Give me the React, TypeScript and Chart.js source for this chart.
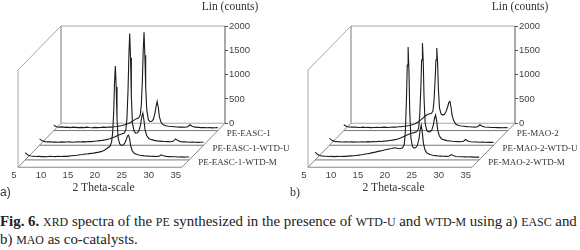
import React, { useEffect, useRef } from "react";
import { Chart, registerables } from "chart.js";
Chart.register(...registerables);

// ---------- data ----------
const anglesA = [
  5, 5.5, 6, 6.5, 7, 7.5, 8, 8.5, 9, 9.5,
  10, 10.5, 11, 11.5, 12, 12.5, 13, 13.5, 14, 14.5,
  15, 15.5, 16, 16.5, 17, 17.5, 18, 18.5, 19, 19.5, 20, 20.5,
  20.8, 21, 21.2, 21.35, 21.5, 21.65, 21.8, 22,
  22.3, 22.6, 22.9, 23.2, 23.5, 23.7, 23.9, 24.1, 24.3, 24.6,
  25, 25.5, 26, 26.5, 27, 27.5, 28, 28.5, 29, 29.5,
  29.9, 30.3, 30.8,
  31.5, 32, 32.5, 33, 33.5, 34, 34.5, 35,
];
const peEasc1 = [
  110, 80, 70, 75, 65, 70, 60, 70, 65, 60,
  65, 60, 70, 62, 58, 66, 60, 64, 70, 66,
  75, 72, 80, 85, 95, 105, 120, 140, 165, 200, 240, 260,
  320, 520, 1050, 1650, 2020, 1550, 900, 420,
  220, 185, 190, 230, 360, 500, 600, 480, 290, 170,
  120, 100, 90, 85, 80, 75, 70, 72, 68, 80,
  120, 90, 70,
  65, 60, 62, 58, 60, 55, 58, 60,
];
const peEasc1WtdU = [
  130, 90, 75, 70, 72, 65, 68, 62, 70, 64,
  66, 70, 62, 68, 72, 66, 74, 70, 78, 75,
  82, 88, 95, 100, 110, 125, 140, 160, 185, 210, 230, 250,
  320, 560, 1150, 1850, 2300, 1800, 1000, 450,
  290, 250, 255, 300, 430, 580, 660, 520, 320, 200,
  140, 115, 100, 90, 85, 80, 78, 75, 72, 85,
  130, 95, 75,
  70, 66, 62, 65, 60, 58, 62, 60,
];
const peEasc1WtdM = [
  150, 100, 80, 75, 70, 72, 68, 70, 66, 72,
  70, 68, 74, 70, 75, 72, 78, 85, 90, 95,
  105, 110, 120, 125, 135, 140, 150, 160, 175, 200, 240, 280,
  360, 560, 1000, 1600, 1930, 1500, 850, 450,
  330, 300, 305, 340, 420, 490, 510, 440, 290, 185,
  130, 110, 95, 88, 80, 78, 75, 72, 70, 78,
  105, 85, 72,
  68, 64, 66, 60, 62, 58, 60, 60,
];

const anglesB = [
  5, 5.5, 6, 6.5, 7, 7.5, 8, 8.5, 9, 9.5,
  10, 10.5, 11, 11.5, 12, 12.5, 13, 13.5, 14, 14.5,
  15, 15.5, 16, 16.5, 17, 17.5, 18, 18.5, 19, 19.5, 20, 20.5, 21,
  21.3, 21.5, 21.7, 21.85, 22, 22.15, 22.3, 22.5,
  22.8, 23.1, 23.4, 23.7, 24, 24.2, 24.4, 24.6, 24.8, 25.1,
  25.5, 26, 26.5, 27, 27.5, 28, 28.5, 29, 29.5,
  29.9, 30.3, 30.8,
  31.5, 32, 32.5, 33, 33.5, 34, 34.5, 35,
];
const peMao2 = [
  120, 85, 75, 70, 72, 66, 64, 70, 62, 66,
  60, 64, 68, 62, 66, 70, 64, 68, 72, 70,
  78, 80, 88, 95, 105, 120, 140, 170, 210, 260, 310, 340, 350,
  400, 620, 1050, 1450, 1700, 1400, 850, 460,
  340, 320, 335, 390, 490, 575, 600, 490, 320, 200,
  130, 105, 95, 88, 82, 78, 74, 72, 80,
  120, 90, 72,
  68, 64, 62, 60, 62, 58, 60, 58,
];
const peMao2WtdU = [
  140, 95, 80, 74, 70, 68, 72, 66, 70, 64,
  68, 66, 72, 68, 74, 70, 76, 72, 80, 78,
  85, 90, 98, 105, 115, 130, 150, 175, 200, 225, 245, 260, 280,
  350, 600, 1150, 1750, 2100, 1700, 950, 450,
  300, 272, 280, 310, 420, 550, 620, 500, 310, 190,
  130, 110, 95, 88, 82, 78, 75, 72, 82,
  118, 88, 72,
  68, 66, 62, 64, 60, 58, 60, 58,
];
const peMao2WtdM = [
  160, 105, 85, 78, 74, 70, 72, 68, 72, 70,
  74, 72, 78, 82, 86, 92, 98, 105, 115, 125,
  135, 150, 160, 175, 185, 200, 215, 225, 235, 250, 240, 230, 250,
  320, 600, 1250, 1950, 2320, 1850, 1000, 460,
  270, 242, 255, 300, 440, 620, 715, 560, 340, 200,
  135, 110, 95, 88, 80, 78, 74, 72, 80,
  110, 85, 70,
  66, 64, 62, 60, 62, 58, 60, 58,
];

const namesA = ["PE-EASC-1", "PE-EASC-1-WTD-U", "PE-EASC-1-WTD-M"];
const namesB = ["PE-MAO-2", "PE-MAO-2-WTD-U", "PE-MAO-2-WTD-M"];
const yTickValues = [0, 500, 1000, 1500, 2000];
const xTickValues = [5, 10, 15, 20, 25, 30, 35];

// ---------- layout (pixels) ----------
const W = 290;
const H = 200;
const PAD_TOP = 26;
const PAD_LEFT = 8;
const Y_AXIS_W = 65;
const X_AXIS_H = 33;
const BACK_LEFT = 61; // pixel of 5 deg on back plane
const FRONT_FIVE = 14; // pixel of 5 deg label on front edge
const PX_DEG = 5.467;
const PX_DEG_FRONT = 5.39;
const DEPTH_X = -43;
const DEPTH_Y = 44;
const DEPTHS = [0.5, 1.5, 2.5];

const SERIF = '"Liberation Serif", "Times New Roman", serif';
const SANS = '"Liberation Sans", Arial, sans-serif';

function Panel({ angles, series, names, letter, letterFont }: any) {
  const ref = useRef<HTMLCanvasElement>(null);
  useEffect(() => {
    const plotW = W - Y_AXIS_W - PAD_LEFT;
    const xMin = 5 - (BACK_LEFT - PAD_LEFT) / PX_DEG;
    const xMax = xMin + plotW / PX_DEG;
    const xfMin = 5 - (FRONT_FIVE - PAD_LEFT) / PX_DEG_FRONT;
    const xfMax = xfMin + plotW / PX_DEG_FRONT;

    const plugin = {
      id: "waterfall",
      beforeDatasetsDraw(chart: any) {
        const { ctx } = chart;
        const x = chart.scales.x;
        const y = chart.scales.y;
        const xl = x.getPixelForValue(5);
        const xr = x.getPixelForValue(35);
        const yt = y.getPixelForValue(2000);
        const y0 = y.getPixelForValue(0);
        const seg = (a: number, b: number, c: number, d: number, col: string) => {
          ctx.beginPath();
          ctx.strokeStyle = col;
          ctx.moveTo(a, b);
          ctx.lineTo(c, d);
          ctx.stroke();
        };
        ctx.save();
        ctx.lineWidth = 1;
        const g = "#a8a8a8";
        seg(xl, yt, xr, yt, g);
        seg(xl, yt, xl, y0, "#777");
        seg(xl, y0, xr, y0, g);
        seg(xl, yt, xl + DEPTH_X, yt + DEPTH_Y, g);
        seg(xl + DEPTH_X, yt + DEPTH_Y, xl + DEPTH_X, y0 + DEPTH_Y, g);
        seg(xl, y0, xl + DEPTH_X, y0 + DEPTH_Y, "#888");
        seg(xl + DEPTH_X, y0 + DEPTH_Y, xr + DEPTH_X, y0 + DEPTH_Y, "#888");
        seg(xr, y0, xr + DEPTH_X, y0 + DEPTH_Y, "#888");
        seg(xr, yt, xr, y0, "#555");
        DEPTHS.forEach((d) => {
          const dx = (d * DEPTH_X) / 3;
          const dy = (d * DEPTH_Y) / 3;
          seg(xl + dx, y0 + dy, xr + dx, y0 + dy, "#777");
        });
        ctx.restore();
      },
      beforeDatasetDraw(chart: any, args: any) {
        const d = DEPTHS[args.index];
        chart.ctx.save();
        chart.ctx.translate((d * DEPTH_X) / 3, (d * DEPTH_Y) / 3);
      },
      afterDatasetDraw(chart: any) {
        chart.ctx.restore();
      },
      afterDraw(chart: any) {
        const { ctx } = chart;
        const x = chart.scales.x;
        const xf = chart.scales.xf;
        const y = chart.scales.y;
        const xr = x.getPixelForValue(35);
        const y0 = y.getPixelForValue(0);
        ctx.save();
        ctx.fillStyle = "#333";
        ctx.textBaseline = "middle";
        ctx.textAlign = "left";
        ctx.font = `9px ${SERIF}`;
        names.forEach((n: string, i: number) => {
          const d = DEPTHS[i];
          ctx.fillText(n, xr + (d * DEPTH_X) / 3 + 9, y0 + (d * DEPTH_Y) / 3 + 3);
        });
        ctx.textAlign = "center";
        ctx.font = `11.5px ${SERIF}`;
        ctx.fillText("Lin (counts)", xr + 5, 7);
        ctx.font = `11.6px ${SERIF}`;
        ctx.fillText("2 Theta-scale", xf.getPixelForValue(21.6), 188);
        ctx.textAlign = "left";
        ctx.font = letterFont;
        ctx.fillText(letter, 0, 193);
        ctx.restore();
      },
    };

    const chart = new Chart(ref.current as HTMLCanvasElement, {
      type: "line",
      data: {
        datasets: series.map((vals: number[]) => ({
          data: angles.map((a: number, i: number) => ({ x: a, y: vals[i] })),
          borderColor: "#1c1c1c",
          borderWidth: 1.1,
          pointRadius: 0,
          tension: 0,
          fill: false,
          clip: false,
        })),
      },
      options: {
        animation: false,
        responsive: false,
        events: [],
        layout: { padding: { top: PAD_TOP, left: PAD_LEFT, right: 0, bottom: 0 } },
        plugins: { legend: { display: false }, tooltip: { enabled: false }, title: { display: false } },
        scales: {
          x: { type: "linear", min: xMin, max: xMax, display: false },
          xf: {
            type: "linear",
            position: "bottom",
            min: xfMin,
            max: xfMax,
            grid: { display: false, drawTicks: false },
            border: { display: false },
            afterBuildTicks: (s: any) => {
              s.ticks = xTickValues.map((v) => ({ value: v }));
            },
            afterFit: (s: any) => {
              s.height = X_AXIS_H;
            },
            ticks: {
              autoSkip: false,
              maxRotation: 0,
              padding: 3,
              color: "#444",
              font: { family: SANS, size: 9.5 },
              callback: (v: any) => String(v),
            },
          },
          y: {
            type: "linear",
            position: "right",
            min: -900,
            max: 2000,
            grid: { drawOnChartArea: false, drawTicks: true, tickLength: 3, color: "#555" },
            border: { display: false },
            afterBuildTicks: (s: any) => {
              s.ticks = yTickValues.map((v) => ({ value: v }));
            },
            afterFit: (s: any) => {
              s.width = Y_AXIS_W;
            },
            ticks: {
              padding: 1,
              color: "#444",
              font: { family: SANS, size: 9.5 },
              callback: (v: any) => String(v),
            },
          },
        },
      },
      plugins: [plugin],
    } as any);
    return () => chart.destroy();
  }, []);
  return <canvas ref={ref} width={W} height={H} style={{ display: "block", width: W, height: H }} />;
}

const sc = { fontSize: "0.8em" };

export default function App() {
  return (
    <div style={{ position: "fixed", left: 0, top: 0, width: 580, height: 250, background: "#fff" }}>
      <div style={{ position: "absolute", left: 0, top: 0 }}>
        <Panel angles={anglesA} series={[peEasc1, peEasc1WtdU, peEasc1WtdM]} names={namesA} letter="a)" letterFont={`12px ${SANS}`} />
      </div>
      <div style={{ position: "absolute", left: 290, top: 0 }}>
        <Panel angles={anglesB} series={[peMao2, peMao2WtdU, peMao2WtdM]} names={namesB} letter="b)" letterFont={`12px ${SERIF}`} />
      </div>
      <div
        style={{
          position: "absolute",
          left: 0,
          top: 213,
          width: 580,
          fontFamily: SERIF,
          fontSize: 14.9,
          lineHeight: "17px",
          color: "#222",
          whiteSpace: "nowrap",
        }}
      >
        <div>
          <b>Fig. 6.</b> <span style={sc}>XRD</span> spectra of the <span style={sc}>PE</span> synthesized in the presence of{" "}
          <span style={sc}>WTD-U</span> and <span style={sc}>WTD-M</span> using a) <span style={sc}>EASC</span> and
        </div>
        <div>
          b) <span style={sc}>MAO</span> as co-catalysts.
        </div>
      </div>
    </div>
  );
}
